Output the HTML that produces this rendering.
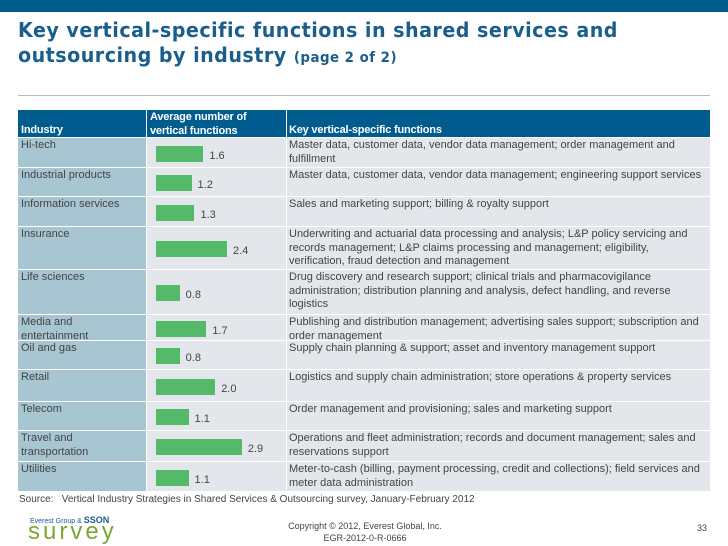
<!DOCTYPE html>
<html><head><meta charset="utf-8"><style>
body{margin:0;width:728px;height:546px;background:#fff;font-family:"Liberation Sans",sans-serif;position:relative;overflow:hidden}
.abs{position:absolute}
#tbl{position:absolute;left:18px;top:110px;width:692px}
.row{position:absolute;left:0;width:692px}
.c1,.c2,.c3{position:absolute;top:0;bottom:1px;box-sizing:border-box;font-size:11px;color:#444;line-height:13.5px;letter-spacing:0}
.c1{left:0;width:128px;background:#a8c6d2;padding:1px 3px}
.c2{left:129px;width:139px;background:#e3e7ec}
.c3{left:269px;width:423px;background:#e3e7ec;padding:1px 6px 1px 2px}
.hdr .c1,.hdr .c2,.hdr .c3{background:#005b8e;color:#fff;font-weight:bold;font-size:11px;letter-spacing:-0.2px}
.bar{position:absolute;background:#55b96a;height:16px}
.val{position:absolute;font-size:11px;color:#444}
</style></head><body>
<div class="abs" style="left:0;top:0;width:728px;height:12px;background:#005b8e"></div>
<div class="abs" style="left:18px;top:18px;font-size:20px;font-weight:bold;color:#1a5e8c;line-height:25px;letter-spacing:0.5px;font-family:'DejaVu Sans',sans-serif;transform:scaleX(0.955);transform-origin:left">Key vertical-specific functions in shared services and<br>outsourcing by industry <span style="font-size:14px">(page 2 of 2)</span></div>
<div class="abs" style="left:18px;top:95px;width:692px;height:1px;background:#bbb"></div>
<div id="tbl"></div>
<div class="abs" style="left:19px;top:494px;font-size:10px;color:#444">Source:&nbsp;&nbsp;&nbsp;Vertical Industry Strategies in Shared Services &amp; Outsourcing survey, January-February 2012</div>
<div class="abs" style="left:26px;top:512px;width:100px;height:34px">
<div style="font-size:7px;color:#1a5e8c;position:absolute;left:4px;top:3px">Everest Group &amp; <b style="font-size:9px">SSON</b></div>
<div style="font-size:24px;color:#7aa830;position:absolute;left:2px;top:6px;letter-spacing:3px">survey</div></div>
<div class="abs" style="left:280px;top:520px;width:170px;text-align:center;font-size:9px;color:#444;line-height:12px">Copyright © 2012, Everest Global, Inc.<br>EGR-2012-0-R-0666</div>
<div class="abs" style="left:697px;top:523px;font-size:9px;color:#444">33</div>
<script>
const industries=["Hi-tech","Industrial products","Information services","Insurance","Life sciences","Media and<br>entertainment","Oil and gas","Retail","Telecom","Travel and<br>transportation","Utilities"];
const avgFunctions=[1.6,1.2,1.3,2.4,0.8,1.7,0.8,2.0,1.1,2.9,1.1];
const valueLabels=["1.6","1.2","1.3","2.4","0.8","1.7","0.8","2.0","1.1","2.9","1.1"];
const functionsText=["Master data, customer data, vendor data management; order management and fulfillment","Master data, customer data, vendor data management; engineering support services","Sales and marketing support; billing & royalty support","Underwriting and actuarial data processing and analysis; L&P policy servicing and records management; L&P claims processing and management; eligibility, verification, fraud detection and management","Drug discovery and research support; clinical trials and pharmacovigilance administration; distribution planning and analysis, defect handling, and reverse logistics","Publishing and distribution management; advertising sales support; subscription and order management","Supply chain planning & support; asset and inventory management support","Logistics and supply chain administration; store operations & property services","Order management and provisioning; sales and marketing support","Operations and fleet administration; records and document management; sales and reservations support","Meter-to-cash (billing, payment processing, credit and collections); field services and meter data administration"];
const rowHeights=[30,29,30,43,45,26,29,32,29,31,30];
const tbl=document.getElementById('tbl');
const xScale=v=>v*29.6;
function esc(s){return s.replace(/&/g,'&amp;')}
let h=document.createElement('div');h.className='row hdr';h.style.top='0px';h.style.height='28px';


h.innerHTML='<div class="c1" style="padding-top:14px">Industry</div><div class="c2" style="padding:1px 3px">Average number of<br>vertical functions</div><div class="c3" style="padding-top:14px">Key vertical-specific functions</div>';
tbl.appendChild(h);
let y=28;
industries.forEach((ind,i)=>{
const r=document.createElement('div');r.className='row';r.style.top=y+'px';r.style.height=rowHeights[i]+'px';


const hh=rowHeights[i]-1;const by=Math.round((hh-16)/2)+1;
const w=xScale(avgFunctions[i]);
r.innerHTML='<div class="c1">'+ind+'</div><div class="c2"><div class="bar" style="left:9px;top:'+by+'px;width:'+w+'px"></div><div class="val" style="left:'+(9+w+6)+'px;top:'+(by+4)+'px">'+valueLabels[i]+'</div></div><div class="c3">'+esc(functionsText[i])+'</div>';
tbl.appendChild(r);
y+=rowHeights[i];
});
</script>
</body></html>
